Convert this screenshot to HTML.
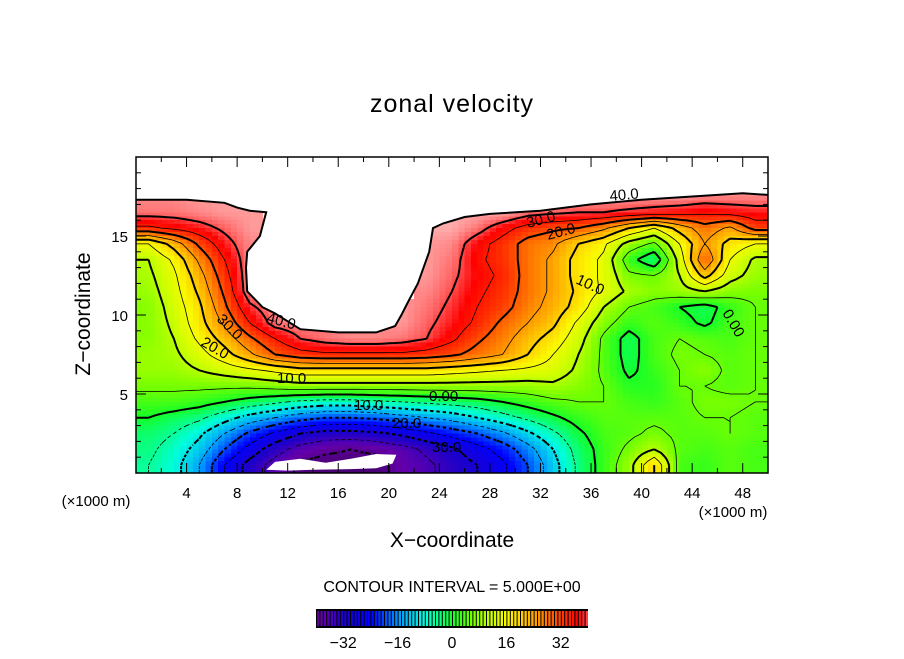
<!DOCTYPE html>
<html><head><meta charset="utf-8"><style>
body{margin:0;background:#fff;}
svg text{font-family:"Liberation Sans",sans-serif;fill:#000;}
</style></head><body>
<svg id="chart" width="904" height="654" viewBox="0 0 904 654" xmlns="http://www.w3.org/2000/svg">
<defs><clipPath id="dataClip"><polygon id="clipPoly" points="0,0"/></clipPath></defs>
<rect width="904" height="654" fill="#fff"/>
<text x="452" y="112" font-size="25" text-anchor="middle" letter-spacing="1">zonal velocity</text>
<g clip-path="url(#dataClip)">
<g id="field" shape-rendering="crispEdges"></g>
<g id="contours"></g>
</g>
<polygon id="bottomHole" fill="#fff" points="0,0"/>
<g id="labels" font-size="15">
<text x="266" y="322" transform="rotate(15 266 322)">40.0</text>
<text x="216" y="320" transform="rotate(45 216 320)">30.0</text>
<text x="200" y="345" transform="rotate(30 200 345)">20.0</text>
<text x="277" y="383">10.0</text>
<text x="429" y="401">0.00</text>
<text x="354" y="410">10.0</text>
<text x="392" y="428">20.0</text>
<text x="432" y="452">30.0</text>
<text x="610" y="201" transform="rotate(-5 610 201)">40.0</text>
<text x="528" y="228" transform="rotate(-15 528 228)">30.0</text>
<text x="548" y="240" transform="rotate(-15 548 240)">20.0</text>
<text x="575" y="283" transform="rotate(25 575 283)">10.0</text>
<text x="722" y="313" transform="rotate(60 722 313)">0.00</text>
</g>
<g id="axes"></g>
<text x="90" y="314" font-size="21" text-anchor="middle" transform="rotate(-90 90 314)">Z−coordinate</text>
<text x="452" y="547" font-size="21" text-anchor="middle">X−coordinate</text>
<text x="96" y="506" font-size="15" text-anchor="middle">(×1000 m)</text>
<text x="733" y="517" font-size="15" text-anchor="middle">(×1000 m)</text>
<text x="452" y="592" font-size="16" text-anchor="middle">CONTOUR INTERVAL = 5.000E+00</text>
<g id="cbar"></g>
</svg>
<script>
const xCenters=[1,3,5,7,9,11,13,15,17,19,21,23,25,27,29,31,33,35,37,39,41,43,45,47,49];
const zCenters=[19.5,18.5,17.5,16.5,15.5,14.5,13.5,12.5,11.5,10.5,9.5,8.5,7.5,6.5,5.5,4.5,3.5,2.5,1.5,0.5];
const N=null;
const values=[
[N,N,N,N,N,N,N,N,N,N,N,N,N,N,N,N,N,N,N,N,N,N,N,N,N],
[N,N,N,N,N,N,N,N,N,N,N,N,N,N,N,N,N,N,N,N,N,N,N,N,N],
[43,43,44,44,N,N,N,N,N,N,N,N,N,N,N,N,44,44,44,44,44,44,43,43,43],
[42,42,43,44,44,N,N,N,N,N,N,N,45,45,45,42,41,40,40,39,38,37,36,37,38],
[34,36,38,41,44,N,N,N,N,N,N,45,45,42,37,33,31,30,26,20,15,22,28,24,32],
[15,22,31,38,43,N,N,N,N,N,N,44,43,37,33,28,26,20,16,8,4,15,25,18,15],
[10,16,26,35,43,N,N,N,N,N,N,44,42,36,33,28,24,18,14,2,-4,12,30,15,9],
[9,14,23,33,43,N,N,N,N,N,N,44,41,37,34,28,24,18,14,6,5,10,22,12,8],
[8,13,21,31,43,N,N,N,N,N,N,43,40,36,33,28,24,19,14,9,7,8,10,7,6],
[7,12,19,29,39,43,N,N,N,N,44,42,39,35,32,27,23,18,10,5,3,0,-2,2,5],
[7,11,18,26,35,42,43,N,N,43,44,41,38,34,29,25,21,14,7,2,4,2,-1,3,5],
[7,10,16,22,29,35,40,42,43,43,42,40,36,31,27,22,18,12,4,-2,3,5,4,3,5],
[8,9,13,18,24,30,33,34,34,34,34,33,31,28,25,20,15,10,4,-2,3,6,5,4,5],
[8,8,10,12,14,16,18,18,18,18,18,18,17,16,15,14,13,9,4,-1,2,5,7,4,5],
[6,6,6,6,6,7,8,8,8,8,8,8,8,8,8,8,9,7,5,1,1,5,5,4,5],
[3,3,2,0,-2,-4,-6,-7,-7,-6,-5,-4,-3,-2,0,2,4,5,5,3,2,4,6,6,5],
[0,-2,-4,-8,-12,-15,-18,-20,-20,-19,-17,-15,-13,-10,-7,-4,-1,2,4,4,4,4,5,5,4],
[-3,-5,-9,-15,-21,-26,-30,-32,-32,-31,-29,-26,-23,-20,-16,-11,-6,-1,3,4,6,4,4,5,4],
[-4,-7,-12,-20,-27,-33,-37,-39,-40,-39,-37,-34,-31,-27,-23,-17,-10,-3,2,6,10,4,3,4,3],
[-5,-8,-15,-25,-32,-37,-41,-42,-42,-42,-38,-36,-33,-30,-26,-20,-12,-4,2,8,20,3,2,4,3]
];
// upper boundary of valid data (x, z in data units)
const topEdgeX=[0,4,7,8,9,10.3,9.8,8.8,8.7,8.8,10,11,12,13,16,19,20.5,21,21.5,22.3,23.2,23.5,24.3,26,28,32,36,40,44,48,50];
const topEdgeZ=[17.3,17.3,17.1,16.8,16.6,16.5,15,14,13,11.5,10.5,10.1,9.6,9.1,8.9,8.9,9.3,10,10.8,12,14,15.5,15.8,16.2,16.4,16.6,17,17.3,17.5,17.7,17.6];
// missing-data blob at the bottom
const holeX=[10.3,11,13,15,17,19,20.6,20.3,19,17,14,12];
const holeZ=[0.2,0.7,0.9,0.65,0.9,1.2,1.15,0.6,0.3,0.25,0.2,0.15];
const xTicks=[4,8,12,16,20,24,28,32,36,40,44,48];
const zTicks=[5,10,15];
const cbarTicks=[-32,-16,0,16,32];
const contourLevels=[-40,-35,-30,-25,-20,-15,-10,-5,0,5,10,15,20,25,30,35,40];

const X0=136,X1=768,Y0=157,Y1=473,XMIN=0,XMAX=50,ZMIN=0,ZMAX=20;
const sx=v=>X0+(v-XMIN)/(XMAX-XMIN)*(X1-X0);
const sz=v=>Y1-(v-ZMIN)/(ZMAX-ZMIN)*(Y1-Y0);
const stops=[[-44,[60,0,90]],[-38,[100,0,170]],[-32,[30,0,200]],[-24,[0,0,255]],[-16,[0,150,255]],[-8,[0,255,220]],[0,[20,255,40]],[6,[120,255,0]],[11,[200,255,0]],[16,[250,250,0]],[21,[255,200,0]],[26,[255,140,0]],[32,[255,60,0]],[37,[255,0,0]],[41,[255,100,100]],[46,[255,190,190]]];
function color(v){
  if(v<=stops[0][0])return 'rgb('+stops[0][1]+')';
  for(let i=1;i<stops.length;i++){if(v<=stops[i][0]){const a=stops[i-1],b=stops[i],t=(v-a[0])/(b[0]-a[0]);
    return 'rgb('+a[1].map((c,k)=>Math.round(c+(b[1][k]-c)*t)).join(',')+')';}}
  return 'rgb('+stops[stops.length-1][1]+')';
}
const NS='http://www.w3.org/2000/svg';
function mk(t,at,p){const e=document.createElementNS(NS,t);for(const k in at)e.setAttribute(k,at[k]);p.appendChild(e);return e;}
// clip polygon
let cp=[[sx(0),sz(0)]];
topEdgeX.forEach((x,i)=>cp.push([sx(x),sz(topEdgeZ[i])]));
cp.push([sx(50),sz(0)]);
document.getElementById('clipPoly').setAttribute('points',cp.map(p=>p[0].toFixed(1)+','+p[1].toFixed(1)).join(' '));
document.getElementById('bottomHole').setAttribute('points',holeX.map((x,i)=>sx(x).toFixed(1)+','+sz(holeZ[i]).toFixed(1)).join(' '));

const field=document.getElementById('field');
const dx=2,dz=1,SUB=4;
const nR=zCenters.length,nC=xCenters.length;
function val(r,c){if(r<0||r>=nR||c<0||c>=nC)return null;return values[r][c];}
function cellOf(x,z){const c=Math.min(nC-1,Math.max(0,Math.floor(x/dx))),r=Math.min(nR-1,Math.max(0,Math.floor((20-z)/dz)));return [r,c];}
function sample(x,z){
  const [r0,c0]=cellOf(x,z);
  if(values[r0][c0]===null)return null;
  const fc=(x-xCenters[0])/dx, fr=(zCenters[0]-z)/dz;
  const c=Math.floor(fc), r=Math.floor(fr), tc=fc-c, tr=fr-r;
  let s=0,w=0;
  [[r,c,(1-tr)*(1-tc)],[r,c+1,(1-tr)*tc],[r+1,c,tr*(1-tc)],[r+1,c+1,tr*tc]].forEach(([rr,cc,ww])=>{
    const v=val(rr,cc);if(v!==null&&ww>0){s+=v*ww;w+=ww;}});
  return w>0?s/w:values[r0][c0];
}
zCenters.forEach((z,r)=>{xCenters.forEach((x,c)=>{const v=values[r][c];if(v===null)return;
  const g=mk('g',{},field);
  
  
  for(let i=0;i<SUB;i++)for(let j=0;j<SUB;j++){
    const xa=x-dx/2+i*dx/SUB, za=z+dz/2-j*dz/SUB;
    const sv=sample(xa+dx/SUB/2,za-dz/SUB/2);
    mk('rect',{x:sx(xa),y:sz(za),width:sx(xa+dx/SUB)-sx(xa)+0.6,height:sz(za-dz/SUB)-sz(za)+0.6,fill:color(sv)},g);
  }
});});
const GX=0.5,GZ=0.25,nx=Math.round(50/GX)+1,nz=Math.round(20/GZ)+1;
const grid=[];
for(let j=0;j<nz;j++){const row=[];for(let i=0;i<nx;i++){row.push(sample(Math.min(49.99,Math.max(0.01,i*GX)),Math.min(19.99,Math.max(0.01,j*GZ))));}grid.push(row);}
const cont=document.getElementById('contours');
contourLevels.forEach(L=>{
  let d='';
  for(let j=0;j<nz-1;j++)for(let i=0;i<nx-1;i++){
    const a=grid[j][i],b=grid[j][i+1],c=grid[j+1][i+1],e=grid[j+1][i];
    if(a===null||b===null||c===null||e===null)continue;
    const pts=[];
    const P=[[i,j,a],[i+1,j,b],[i+1,j+1,c],[i,j+1,e]];
    for(let k=0;k<4;k++){const p=P[k],q=P[(k+1)%4];
      if((p[2]<L)!==(q[2]<L)){const t=(L-p[2])/(q[2]-p[2]);pts.push([sx((p[0]+(q[0]-p[0])*t)*GX),sz((p[1]+(q[1]-p[1])*t)*GZ)]);}}
    if(pts.length>=2){d+='M'+pts[0][0].toFixed(1)+' '+pts[0][1].toFixed(1)+'L'+pts[1][0].toFixed(1)+' '+pts[1][1].toFixed(1);}
    if(pts.length===4){d+='M'+pts[2][0].toFixed(1)+' '+pts[2][1].toFixed(1)+'L'+pts[3][0].toFixed(1)+' '+pts[3][1].toFixed(1);}
  }
  if(!d)return;
  const thick=L%10===0;
  const at={d:d,fill:'none',stroke:'#000','stroke-width':thick?2:0.8};
  if(L<0)at['stroke-dasharray']='3 3';
  const p=mk('path',at,cont);
  
  
});
// boundary outline
const ol=mk('polyline',{points:topEdgeX.map((x,i)=>sx(x).toFixed(1)+','+sz(topEdgeZ[i]).toFixed(1)).join(' '),fill:'none',stroke:'#000','stroke-width':2},document.getElementById('contours').parentNode.parentNode);


const axes=document.getElementById('axes');
const frame=mk('rect',{x:X0,y:Y0,width:X1-X0,height:Y1-Y0,fill:'none',stroke:'#000','stroke-width':1.5},axes);


for(let v=2;v<50;v+=2){const big=v%4===0,L=big?10:5;
  mk('line',{x1:sx(v),x2:sx(v),y1:Y1,y2:Y1-L,stroke:'#000'},axes);
  mk('line',{x1:sx(v),x2:sx(v),y1:Y0,y2:Y0+L,stroke:'#000'},axes);}
for(let v=1;v<20;v++){const big=v%5===0,L=big?10:5;
  mk('line',{x1:X0,x2:X0+L,y1:sz(v),y2:sz(v),stroke:'#000'},axes);
  mk('line',{x1:X1,x2:X1-L,y1:sz(v),y2:sz(v),stroke:'#000'},axes);}
xTicks.forEach(v=>{const t=mk('text',{x:sx(v),y:Y1+25,'font-size':15,'text-anchor':'middle'},axes);t.textContent=v;
  
  });
zTicks.forEach(v=>{const t=mk('text',{x:X0-8,y:sz(v)+6,'font-size':15,'text-anchor':'end'},axes);t.textContent=v;
  
  });
const cb=document.getElementById('cbar');
const CX0=316,CX1=588,CY0=609,CY1=628;
const cx=v=>CX0+(v+40)/80*(CX1-CX0);
mk('rect',{x:CX0,y:CY0,width:CX1-CX0,height:CY1-CY0,fill:'#000'},cb);
for(let v=-40;v<40;v++){const e=mk('rect',{x:cx(v)+1,y:CY0+2,width:cx(v+1)-cx(v)-1,height:CY1-CY0-4,fill:color(v+0.5)},cb);
  
  }
cbarTicks.forEach(v=>{const t=mk('text',{x:cx(v),y:648,'font-size':16,'text-anchor':'middle'},cb);t.textContent=v<0?'−'+(-v):v;
  
  });
</script>
</body></html>
